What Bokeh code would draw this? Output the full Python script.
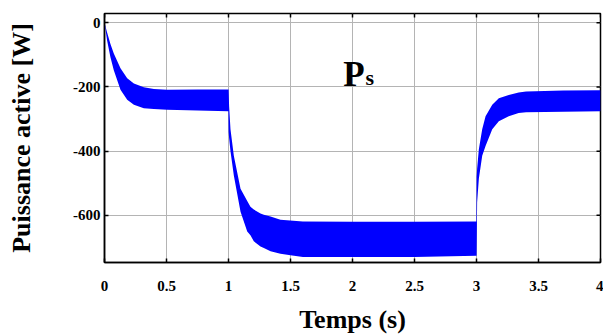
import math
from bokeh.plotting import figure
from bokeh.models import Range1d, FixedTicker, Label, ColumnDataSource, NumeralTickFormatter
from bokeh.embed import file_html
from bokeh.resources import INLINE

# Envelope of the (dense, oscillating) active power signal Ps
time_s = [0.000, 0.021, 0.048, 0.075, 0.129, 0.183, 0.237, 0.317, 0.398, 0.505, 0.750, 0.999,
          1.001, 1.005, 1.016, 1.043, 1.097, 1.151, 1.177, 1.204, 1.258, 1.285, 1.339, 1.419,
          1.600, 2.000, 2.500, 2.999,
          3.001, 3.005, 3.019, 3.046, 3.073, 3.127, 3.180, 3.260, 3.340, 3.400, 3.700, 4.000]
upper_w = [0, -30, -66, -96, -142, -173, -189, -201, -206, -209, -208, -208,
           -208, -260, -332, -414, -517, -555, -573, -582, -594, -598, -604, -614,
           -619, -620, -620, -619,
           -480, -455, -394, -332, -291, -255, -235, -225, -217, -214, -211, -210]
lower_w = [0, -55, -107, -148, -209, -240, -255, -266, -269, -271, -273, -276,
           -340, -360, -400, -476, -589, -650, -662, -681, -697, -702, -712, -720,
           -730, -730, -730, -726,
           -726, -560, -486, -414, -384, -332, -307, -291, -281, -279, -277, -276]

x_ticks = [0, 0.5, 1, 1.5, 2, 2.5, 3, 3.5, 4]
y_ticks = [0, -200, -400, -600]
X_MIN, X_MAX = 0, 4
Y_MIN, Y_MAX = -747, 29

FONT = "Liberation Serif"

src = ColumnDataSource(dict(t=time_s, hi=upper_w, lo=lower_w))

p = figure(width=603, height=336, output_backend="svg", toolbar_location=None,
           x_range=Range1d(X_MIN, X_MAX), y_range=Range1d(Y_MIN, Y_MAX),
           min_border_left=104, min_border_right=3, min_border_top=13, min_border_bottom=71)

p.varea(x="t", y1="lo", y2="hi", source=src, fill_color="#0000ff")

# inward ticks on the top and right sides of the box (half of each dash is clipped by the frame)
p.scatter(x=x_ticks, y=[Y_MAX] * len(x_ticks), marker="dash", angle=math.pi / 2, size=8,
          line_color="black", line_width=1.5)
p.scatter(x=[X_MAX] * len(y_ticks), y=y_ticks, marker="dash", angle=0, size=8,
          line_color="black", line_width=1.5)

p.xaxis.ticker = FixedTicker(ticks=x_ticks)
p.yaxis.ticker = FixedTicker(ticks=y_ticks)
p.xaxis.formatter = NumeralTickFormatter(format="0.[0]")
p.yaxis.formatter = NumeralTickFormatter(format="0")

for ax in (p.xaxis, p.yaxis):
    ax.minor_tick_line_color = None
    ax.major_tick_in = 4
    ax.major_tick_out = 0
    ax.major_tick_line_color = "black"
    ax.major_tick_line_width = 1.5
    ax.axis_line_color = "black"
    ax.axis_line_width = 1.5
    ax.major_label_text_font = FONT
    ax.major_label_text_font_style = "bold"
    ax.major_label_text_font_size = "15px"
    ax.major_label_text_color = "black"
    ax.axis_label_text_font = FONT
    ax.axis_label_text_font_style = "bold"
    ax.axis_label_text_font_size = "26px"
    ax.axis_label_text_color = "black"

p.xaxis.axis_label = "Temps (s)"
p.yaxis.axis_label = "Puissance active [W]"
p.xaxis.major_label_standoff = 18
p.xaxis.axis_label_standoff = 11
p.yaxis.major_label_standoff = 4
p.yaxis.axis_label_standoff = 34

p.grid.grid_line_color = "#b4b4b4"
p.grid.grid_line_width = 1
p.outline_line_color = "black"
p.outline_line_width = 1.5
p.background_fill_color = "white"
p.border_fill_color = "white"

p.add_layout(Label(x=1.925, y=-160, text="P", text_font=FONT, text_font_style="bold",
                   text_font_size="35px", text_baseline="alphabetic", text_color="black"))
p.add_layout(Label(x=2.105, y=-169, text="s", text_font=FONT, text_font_style="bold",
                   text_font_size="22px", text_baseline="alphabetic", text_color="black"))

open("out.html", "w").write(file_html(p, INLINE))
